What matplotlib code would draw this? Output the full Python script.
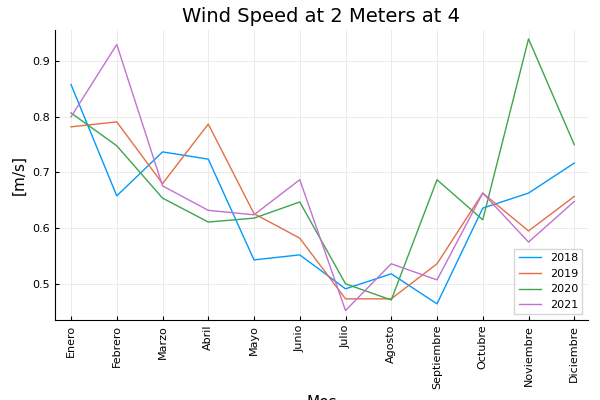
import matplotlib
matplotlib.use('Agg')
from matplotlib import pyplot as plt

meses = ['Enero', 'Febrero', 'Marzo', 'Abril', 'Mayo', 'Junio', 'Julio',
         'Agosto', 'Septiembre', 'Octubre', 'Noviembre', 'Diciembre']
v2018 = [0.858, 0.658, 0.737, 0.724, 0.543, 0.552, 0.491, 0.518, 0.464, 0.636, 0.663, 0.717]
v2019 = [0.782, 0.791, 0.680, 0.787, 0.626, 0.582, 0.473, 0.473, 0.536, 0.663, 0.595, 0.657]
v2020 = [0.807, 0.748, 0.654, 0.611, 0.618, 0.647, 0.500, 0.471, 0.687, 0.615, 0.940, 0.750]
v2021 = [0.800, 0.930, 0.676, 0.632, 0.624, 0.687, 0.452, 0.536, 0.507, 0.663, 0.575, 0.648]

series = [('2018', v2018, '#009AFA'), ('2019', v2019, '#E36F47'),
          ('2020', v2020, '#3EA44E'), ('2021', v2021, '#C371D2')]

fig = plt.figure(figsize=(6, 4), dpi=100)
ax = fig.add_axes([55/600, 80/400, 533/600, 290/400])
x = list(range(len(meses)))
for nombre, valores, color in series:
    ax.plot(x, valores, color=color, lw=1, label=nombre)

ax.set_xticks(x)
ax.set_xticklabels(meses, rotation=90, fontsize=8)
ax.set_yticks([0.5, 0.6, 0.7, 0.8, 0.9])
ax.tick_params(axis='y', labelsize=8)
ax.set_xlim(-0.35, 11.3)
ax.set_ylim(0.435, 0.956)
ax.grid(True, color='#e8e8e8', lw=0.6)
ax.tick_params(direction='in', length=3)
for s in ['top', 'right']:
    ax.spines[s].set_visible(False)
ax.set_title('Wind Speed at 2 Meters at 4', fontsize=14)
ax.set_ylabel('[m/s]', fontsize=11)
ax.set_xlabel('Mes', fontsize=11)
ax.legend(loc='lower right', fontsize=8, fancybox=False, edgecolor='#cccccc')

fig.savefig('out.png')
